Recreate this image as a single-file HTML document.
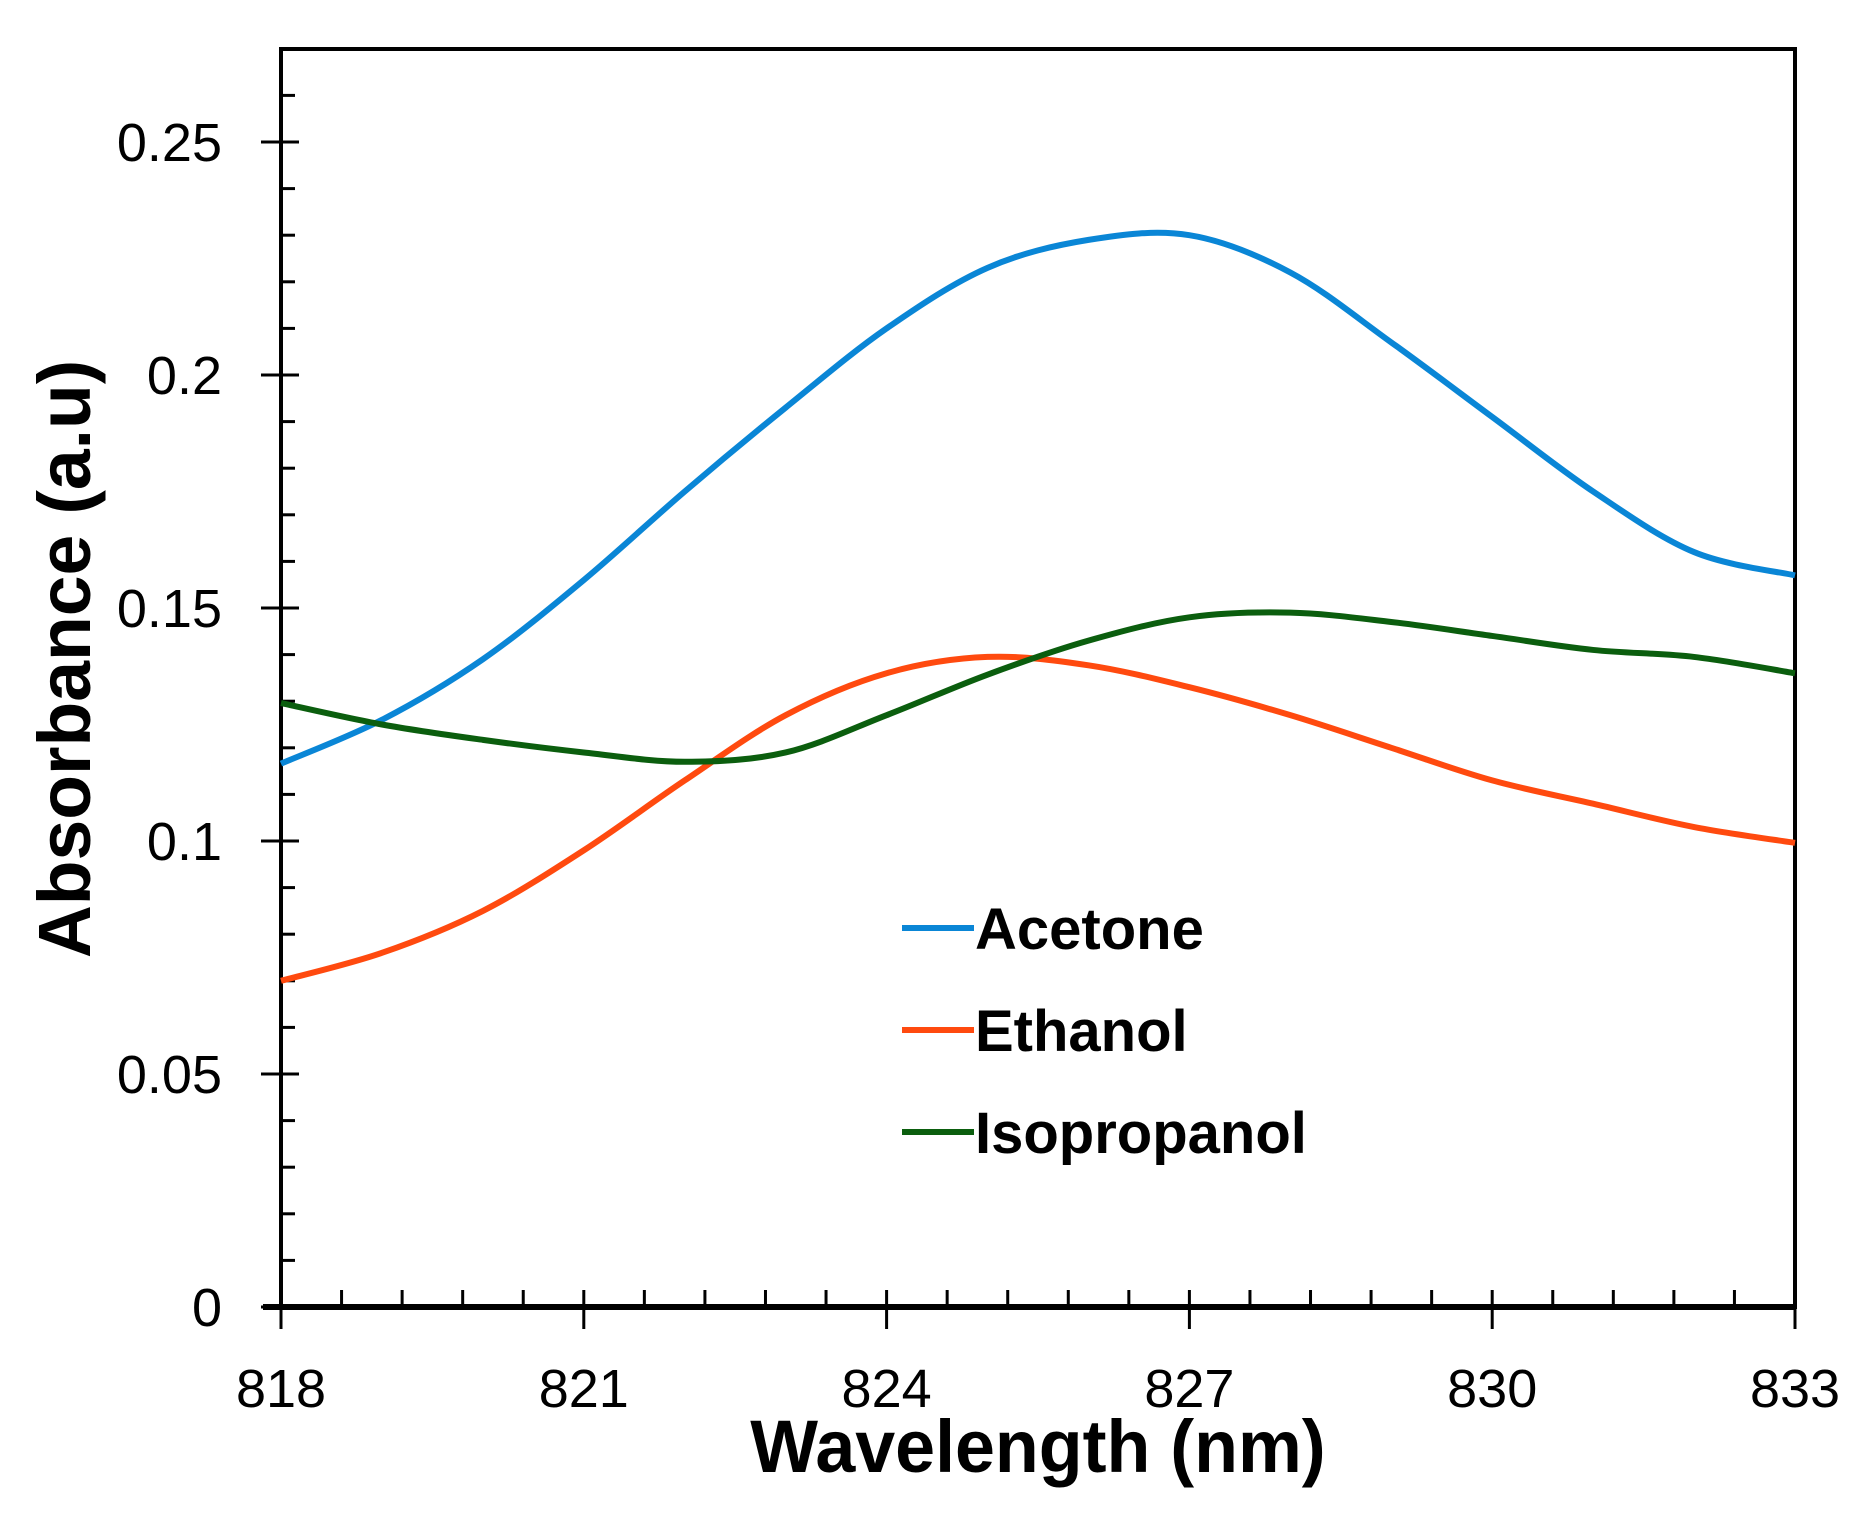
<!DOCTYPE html>
<html><head><meta charset="utf-8"><style>
body{margin:0;background:#fff}
svg{display:block}
text{font-family:"Liberation Sans",sans-serif}
</style></head><body>
<svg id="chart" width="1854" height="1514" xmlns="http://www.w3.org/2000/svg">
<g id="frame"></g><g id="ticks"></g><g id="series"></g>
<text x="1038" y="1472" text-anchor="middle" font-size="74" font-weight="bold" transform="translate(1038,0) scale(0.97,1) translate(-1038,0)">Wavelength (nm)</text>
<text x="0" y="0" text-anchor="middle" font-size="74" font-weight="bold" transform="translate(90,659) rotate(-90) scale(0.99,1)">Absorbance (a.u)</text>
<g id="legend"></g>
</svg>
<script>
const wavelengths=[818,819,820,821,822,823,824,825,826,827,828,829,830,831,832,833];
const acetone=[0.1166,0.126,0.139,0.156,0.175,0.193,0.210,0.223,0.229,0.230,0.222,0.207,0.191,0.175,0.162,0.157];
const ethanol=[0.070,0.076,0.085,0.098,0.113,0.127,0.136,0.1395,0.1377,0.133,0.127,0.120,0.113,0.108,0.103,0.0996];
const isopropanol=[0.1296,0.125,0.1217,0.119,0.117,0.119,0.127,0.1357,0.143,0.148,0.149,0.147,0.144,0.141,0.1395,0.136];
const xTicks=[818,821,824,827,830,833];
const yTicks=[0,0.05,0.1,0.15,0.2,0.25];
const yTickLabels=["0","0.05","0.1","0.15","0.2","0.25"];
const seriesNames=["Acetone","Ethanol","Isopropanol"];
const colors=["#0a86d6","#ff4a0f","#0b5e0e"];
const L=281,R=1795,T=49,B=1307,xMin=818,xMax=833,yMin=0;
const X=v=>L+(v-xMin)/(xMax-xMin)*(R-L);
const Y=v=>B-(v-yMin)/(0.25)*(B-142);
const NS="http://www.w3.org/2000/svg";
function mk(tag,attrs,parent){const e=document.createElementNS(NS,tag);for(const k in attrs)e.setAttribute(k,attrs[k]);parent.appendChild(e);return e;}
const frame=document.getElementById('frame'),ticks=document.getElementById('ticks'),ser=document.getElementById('series'),leg=document.getElementById('legend');
let f=mk('rect',{x:L,y:T,width:R-L,height:B-T,fill:'none',stroke:'#000','stroke-width':4},frame);


let xa=mk('line',{x1:L-18,x2:R,y1:B,y2:B,stroke:'#000','stroke-width':6},frame);


for(let v=xMin;v<=xMax+1e-6;v+=0.6){const x=X(v);mk('line',{x1:x,x2:x,y1:B,y2:B-17,stroke:'#000','stroke-width':3},ticks);}
xTicks.forEach(v=>{const x=X(v);mk('line',{x1:x,x2:x,y1:B,y2:B+22,stroke:'#000','stroke-width':3},ticks);
const t=mk('text',{x:x,y:1407,'text-anchor':'middle','font-size':54},ticks);t.textContent=v;

});
for(let i=1;i<=26;i++){const y=Y(i*0.01);mk('line',{x1:L,x2:L+14,y1:y,y2:y,stroke:'#000','stroke-width':3},ticks);}
yTicks.forEach((v,i)=>{const y=Y(v);mk('line',{x1:L-20,x2:L+18,y1:y,y2:y,stroke:'#000','stroke-width':3},ticks);
const t=mk('text',{x:222,y:y+19,'text-anchor':'end','font-size':54},ticks);t.textContent=yTickLabels[i];

});
function path(vals){const p=wavelengths.map((w,i)=>[X(w),Y(vals[i])]);let d=`M${p[0][0]},${p[0][1]}`;
for(let i=0;i<p.length-1;i++){const p0=p[i-1]||p[i],p1=p[i],p2=p[i+1],p3=p[i+2]||p2;
d+=` C${p1[0]+(p2[0]-p0[0])/6},${p1[1]+(p2[1]-p0[1])/6} ${p2[0]-(p3[0]-p1[0])/6},${p2[1]-(p3[1]-p1[1])/6} ${p2[0]},${p2[1]}`;}return d;}
[acetone,ethanol,isopropanol].forEach((s,i)=>{const e=mk('path',{d:path(s),fill:'none',stroke:colors[i],'stroke-width':6},ser);


const ly=928+i*102;const g=mk('g',{},leg);


mk('line',{x1:902,x2:974,y1:ly,y2:ly,stroke:colors[i],'stroke-width':6},g);
const t=mk('text',{x:975,y:ly+21,'font-size':58,'font-weight':'bold'},g);t.textContent=seriesNames[i];});
</script>
</body></html>
